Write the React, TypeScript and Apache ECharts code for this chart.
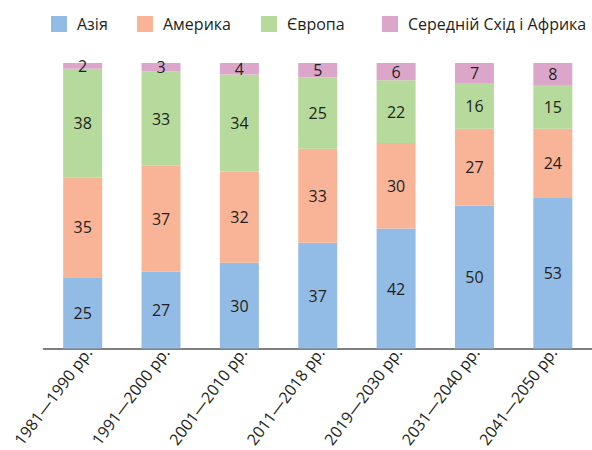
import React, { useEffect, useRef } from "react";
import * as echarts from "echarts";

const categories = [
  "1981—1990 рр.",
  "1991—2000 рр.",
  "2001—2010 рр.",
  "2011—2018 рр.",
  "2019—2030 рр.",
  "2031—2040 рр.",
  "2041—2050 рр.",
];
const seriesNames = ["Азія", "Америка", "Європа", "Середній Схід і Африка"];
const asia = [25, 27, 30, 37, 42, 50, 53];
const america = [35, 37, 32, 33, 30, 27, 24];
const europe = [38, 33, 34, 25, 22, 16, 15];
const middleEastAfrica = [2, 3, 4, 5, 6, 7, 8];
const colors = ["#92bce5", "#f9b498", "#b6da9b", "#dca6cb"];

const FONT = "'Open Sans', sans-serif";
const TEXT = "#231f20";

export default function App() {
  const ref = useRef<HTMLDivElement>(null);
  useEffect(() => {
    if (!ref.current) return;
    const chart = echarts.init(ref.current, null, { renderer: "svg" });
    const values = [asia, america, europe, middleEastAfrica];
    const legendLefts = [46, 132, 256, 377];
    chart.setOption({
      animation: false,
      textStyle: { fontFamily: FONT },
      legend: seriesNames.map((n, i) => ({
        data: [n],
        left: legendLefts[i],
        top: 11,
        itemWidth: 16,
        itemHeight: 16,
        icon: "rect",
        selectedMode: false,
        textStyle: {
          fontFamily: FONT,
          fontSize: 16,
          color: TEXT,
          padding: [0, 0, 0, 5],
        },
      })),
      grid: [
        { left: 43.5, width: 553, top: 63, height: 285.5 },
        { left: 49.5, width: 553, top: 63, height: 285.5 },
      ],
      xAxis: [
        {
          type: "category",
          gridIndex: 0,
          data: categories,
          axisLine: { lineStyle: { color: "#555", width: 1.5 } },
          axisTick: { show: false },
          axisLabel: { show: false },
        },
        {
          type: "category",
          gridIndex: 1,
          data: categories,
          axisLine: { show: false },
          axisTick: { show: false },
          axisLabel: {
            rotate: 53,
            margin: 4.5,
            interval: 0,
            fontFamily: FONT,
            fontSize: 16,
            color: TEXT,
          },
        },
      ],
      yAxis: [
        { type: "value", gridIndex: 0, min: 0, max: 100, show: false },
        { type: "value", gridIndex: 1, min: 0, max: 100, show: false },
      ],
      series: seriesNames.map((n, i) => ({
        name: n,
        type: "bar",
        stack: "total",
        xAxisIndex: 0,
        yAxisIndex: 0,
        barWidth: 39,
        data: values[i],
        itemStyle: { color: colors[i] },
        label: {
          show: true,
          position: "inside",
          fontFamily: FONT,
          fontSize: 16,
          color: TEXT,
        },
      })),
    });
    return () => chart.dispose();
  }, []);
  return (
    <div
      ref={ref}
      style={{ position: "absolute", left: 0, top: 0, width: 592, height: 450 }}
    />
  );
}
